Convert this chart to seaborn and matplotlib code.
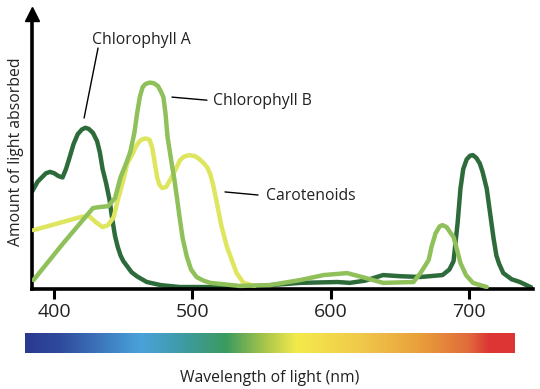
import numpy as np
import matplotlib.pyplot as plt
from matplotlib.colors import LinearSegmentedColormap
import seaborn as sns

# ─── Datos (nm, absorción relativa) ─────────────────────────────────────────
chla_nm = [384, 388, 391, 394, 397, 400, 403, 406, 408.5, 411, 414, 417, 420,
           422.5, 425, 428, 431, 433, 435, 437.5, 440, 442, 444, 446, 448, 450,
           453, 456, 460, 467, 477, 491, 520, 549, 578, 605, 614, 625, 638, 650,
           665, 681, 686, 689, 692, 694, 696, 698.5, 701, 703, 705.5, 708, 710,
           713, 715.5, 718, 720, 722, 725, 731, 737, 746]
chla_abs = [0.35, 0.385, 0.40, 0.415, 0.42, 0.415, 0.405, 0.40, 0.43, 0.47,
            0.52, 0.555, 0.572, 0.578, 0.574, 0.56, 0.53, 0.49, 0.43, 0.38,
            0.32, 0.25, 0.19, 0.15, 0.12, 0.10, 0.08, 0.06, 0.045, 0.025,
            0.014, 0.007, 0.007, 0.011, 0.022, 0.025, 0.022, 0.030, 0.050,
            0.046, 0.043, 0.050, 0.07, 0.10, 0.24, 0.36, 0.43, 0.465, 0.478,
            0.48, 0.47, 0.45, 0.42, 0.36, 0.27, 0.18, 0.12, 0.09, 0.057,
            0.035, 0.025, 0.004]

chlb_nm = [385, 406, 428, 433, 439, 444, 448, 452, 455, 458, 460, 462, 464,
           466, 469, 472, 475, 477, 479, 480.5, 482, 485, 487, 489, 491, 493,
           496, 499, 503, 508, 513, 534, 556, 578, 595, 612, 625, 638, 660,
           665, 668, 671, 673, 676, 679, 681, 684, 687, 689, 691, 694, 698,
           703, 713]
chlb_abs = [0.032, 0.161, 0.290, 0.294, 0.297, 0.326, 0.401, 0.45, 0.491,
            0.56, 0.631, 0.69, 0.724, 0.735, 0.74, 0.738, 0.728, 0.71, 0.688,
            0.63, 0.545, 0.45, 0.391, 0.32, 0.247, 0.18, 0.115, 0.07, 0.043,
            0.03, 0.022, 0.011, 0.014, 0.032, 0.050, 0.057, 0.040, 0.022,
            0.025, 0.057, 0.08, 0.104, 0.15, 0.20, 0.225, 0.229, 0.222, 0.20,
            0.186, 0.15, 0.093, 0.05, 0.022, 0.007]

caro_nm = [385, 401, 419, 425, 430, 435, 439, 443, 446, 450, 453, 457, 459,
           461, 463, 466, 469, 471, 472, 473, 474.5, 476, 478, 481, 485, 488,
           491, 494, 498, 502, 505, 508, 511, 513, 515, 518, 521, 525, 529,
           532, 537, 545]
caro_abs = [0.211, 0.233, 0.258, 0.262, 0.240, 0.222, 0.229, 0.258, 0.319,
            0.391, 0.452, 0.487, 0.51, 0.525, 0.535, 0.54, 0.535, 0.505,
            0.475, 0.444, 0.40, 0.375, 0.362, 0.366, 0.401, 0.43, 0.462,
            0.475, 0.48, 0.476, 0.466, 0.452, 0.434, 0.41, 0.373, 0.301,
            0.226, 0.151, 0.097, 0.057, 0.022, 0.011]

x_ticks = [400, 500, 600, 700]

# Banda del espectro visible (posición relativa, color)
spectrum_pos = [0.0, 0.07, 0.235, 0.316, 0.41, 0.49, 0.555, 0.684, 0.806, 0.908, 0.95, 1.0]
spectrum_col = ['#2a3a8f', '#2f4a9c', '#4aa2db', '#3f9ba8', '#3b9a5e', '#a8c64a',
                '#f4ea4c', '#f0c94a', '#e9a03c', '#e06a3a', '#dd3434', '#dd3434']

COLOR_A = '#2e6b3b'
COLOR_B = '#8fc05a'
COLOR_C = '#dde65e'

sns.set_style('white')
plt.rcParams['font.family'] = ['Open Sans', 'DejaVu Sans']

W, H = 540, 389
fig = plt.figure(figsize=(W / 100, H / 100), dpi=100)
ax = fig.add_axes([32 / W, (H - 289) / H, (533 - 32) / W, (289 - 14) / H])

line_kw = dict(linewidth=3.2, sort=False, solid_capstyle='round', solid_joinstyle='round')
sns.lineplot(x=chla_nm, y=chla_abs, ax=ax, color=COLOR_A, zorder=2, **line_kw)
sns.lineplot(x=caro_nm, y=caro_abs, ax=ax, color=COLOR_C, zorder=3, **line_kw)
sns.lineplot(x=chlb_nm, y=chlb_abs, ax=ax, color=COLOR_B, zorder=4, **line_kw)

ax.set_xlim(383.9, 746.5)
ax.set_ylim(0, 0.986)
ax.set_xticks(x_ticks)
ax.set_xticklabels([str(t) for t in x_ticks], fontsize=14, color='#222222')
ax.set_yticks([])
ax.tick_params(axis='x', direction='out', length=7, width=2.2, color='black', pad=3,
               bottom=True)
for s in ['top', 'right']:
    ax.spines[s].set_visible(False)
for s in ['left', 'bottom']:
    ax.spines[s].set_color('black')
    ax.spines[s].set_linewidth(2.6)
ax.plot(0, 1, marker='^', color='black', markersize=10, transform=ax.transAxes,
        clip_on=False, zorder=6)
ax.set_ylabel('Amount of light absorbed', fontsize=11.3, color='#222222', labelpad=6)
ax.set_xlabel('')

# Etiquetas con líneas guía
lab_kw = dict(fontsize=11.3, color='#222222', va='center', ha='left')
ax.plot([421.6, 431.7], [0.613, 0.864], color='black', lw=1)
ax.text(427.3, 0.892, 'Chlorophyll A', **lab_kw)
ax.plot([485.2, 510.5], [0.688, 0.677], color='black', lw=1)
ax.text(514.8, 0.674, 'Chlorophyll B', **lab_kw)
ax.plot([523.6, 547.5], [0.348, 0.337], color='black', lw=1)
ax.text(553.3, 0.333, 'Carotenoids', **lab_kw)

# Barra de colores del espectro
cax = fig.add_axes([25 / W, (H - 353) / H, 490 / W, 20 / H])
cmap = LinearSegmentedColormap.from_list('spectrum', list(zip(spectrum_pos, spectrum_col)))
cax.imshow(np.linspace(0, 1, 512)[None, :], aspect='auto', cmap=cmap)
cax.set_axis_off()

fig.text(270 / W, 1 - 378 / H, 'Wavelength of light (nm)', fontsize=11.3,
         color='#222222', ha='center', va='center')

plt.savefig('out.png', dpi=100)
